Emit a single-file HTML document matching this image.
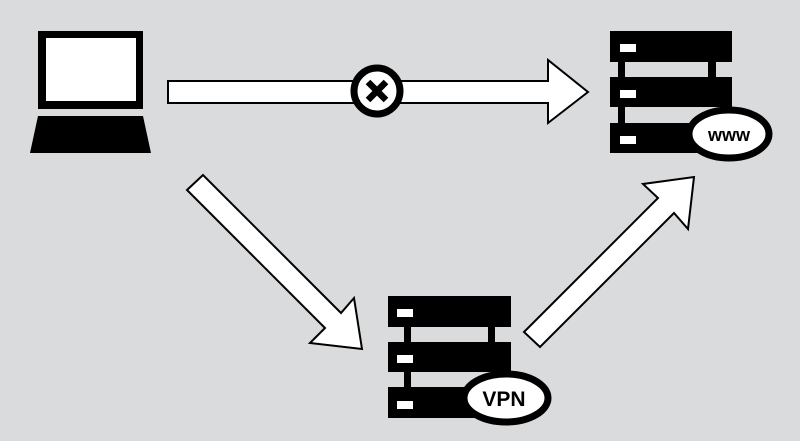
<!DOCTYPE html>
<html><head><meta charset="utf-8"><style>html,body{margin:0;padding:0;background:#d9dbdc}svg{display:block}</style></head>
<body>
<svg width="800" height="441" viewBox="0 0 800 441" xmlns="http://www.w3.org/2000/svg">
<rect width="800" height="441" fill="#d9dbdc"/>
<!-- laptop -->
<rect x="38" y="31" width="105" height="78" fill="#000"/>
<rect x="46" y="38" width="90" height="63" fill="#fff"/>
<polygon points="38,116 143,116 151,153 30,153" fill="#000"/>
<!-- horizontal arrow -->
<polygon points="168,81 548,81 548,60 588,92 548,123 548,103 168,103" fill="#fff" stroke="#000" stroke-width="2"/>
<circle cx="377" cy="91" r="23" fill="#fff" stroke="#000" stroke-width="7"/>
<path d="M368,82 L386,100 M386,82 L368,100" stroke="#000" stroke-width="6.5"/>
<!-- www server -->
<g fill="#000">
<rect x="610" y="31" width="122" height="31"/>
<rect x="610" y="77" width="122" height="30"/>
<rect x="610" y="123" width="122" height="30"/>
<rect x="618" y="60" width="7" height="65"/>
<rect x="708" y="60" width="8" height="20"/>
</g>
<g fill="#fff">
<rect x="620" y="44" width="16" height="8"/>
<rect x="620" y="90" width="16" height="8"/>
<rect x="620" y="136" width="16" height="8"/>
</g>
<ellipse cx="729" cy="134" rx="40" ry="24" fill="#fff" stroke="#000" stroke-width="7"/>
<text x="729" y="141" text-anchor="middle" font-family="Liberation Sans, sans-serif" font-size="18" font-weight="bold">www</text>
<!-- diagonal arrow 1 -->
<polygon points="187,190 203,175 341,313 354,298 362,349 310,343 325,328" fill="#fff" stroke="#000" stroke-width="2"/>
<!-- diagonal arrow 2 -->
<polygon points="524,332 658,198 643,184 694,177 688,229 674,213 540,347" fill="#fff" stroke="#000" stroke-width="2"/>
<!-- vpn server -->
<g fill="#000">
<rect x="388" y="296" width="123" height="31"/>
<rect x="388" y="342" width="123" height="30"/>
<rect x="388" y="387" width="123" height="31"/>
<rect x="404" y="325" width="7" height="65"/>
<rect x="488" y="325" width="7" height="20"/>
</g>
<g fill="#fff">
<rect x="397" y="309" width="16" height="8"/>
<rect x="397" y="355" width="16" height="8"/>
<rect x="397" y="401" width="16" height="8"/>
</g>
<ellipse cx="506" cy="398" rx="42" ry="24" fill="#fff" stroke="#000" stroke-width="7"/>
<text x="504" y="406" text-anchor="middle" font-family="Liberation Sans, sans-serif" font-size="21" font-weight="bold">VPN</text>
</svg>
</body></html>
